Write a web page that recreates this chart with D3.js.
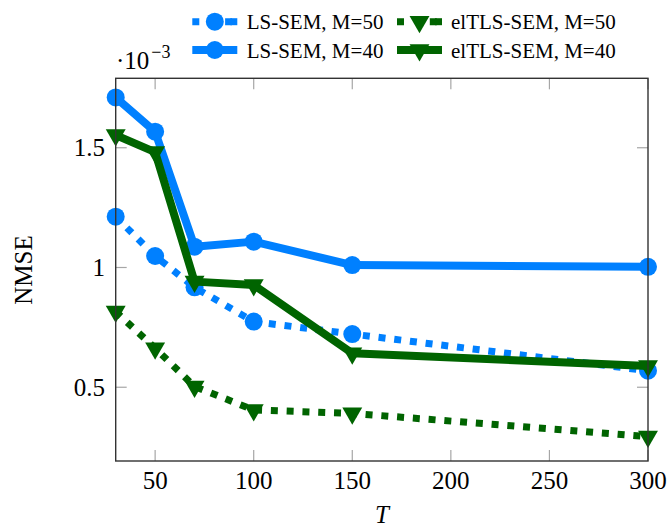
<!DOCTYPE html>
<html>
<head>
<meta charset="utf-8">
<script src="https://cdn.jsdelivr.net/npm/d3@7"></script>
<style>
  html, body { margin: 0; padding: 0; background: #fff; }
  svg { display: block; }
</style>
</head>
<body>
<svg id="chart" width="668" height="529"></svg>
<script>
// ---- data ----
const T = [30, 50, 70, 100, 150, 300];
const lsM50 = [1.212, 1.048, 0.917, 0.774, 0.722, 0.569];
const elM50 = [0.816, 0.663, 0.503, 0.405, 0.391, 0.294];
const lsM40 = [1.71, 1.567, 1.087, 1.108, 1.010, 1.003];
const elM40 = [1.553, 1.482, 0.941, 0.927, 0.642, 0.589];
const seriesNames = ["LS-SEM, M=50", "elTLS-SEM, M=50", "LS-SEM, M=40", "elTLS-SEM, M=40"];
const xTicks = [50, 100, 150, 200, 250, 300];
const yTicks = [0.5, 1, 1.5];
const yTickLabels = ["0.5", "1", "1.5"];

const BLUE = "rgb(0,128,255)";
const GREEN = "rgb(0,100,0)";
const FONT = '"Liberation Serif"';

const series = [
  { name: seriesNames[0], values: lsM50, color: BLUE, dotted: true, marker: "circle" },
  { name: seriesNames[1], values: elM50, color: GREEN, dotted: true, marker: "tri" },
  { name: seriesNames[2], values: lsM40, color: BLUE, dotted: false, marker: "circle" },
  { name: seriesNames[3], values: elM40, color: GREEN, dotted: false, marker: "tri" }
];

const svg = d3.select("#chart");
const x = d3.scaleLinear().domain([30, 300]).range([115.7, 648]);
const y = d3.scaleLinear().domain([0.192, 1.79]).range([461, 78.3]);

const [x0, x1] = x.range();
const [y0, y1] = y.range();

function txt(sel) { return sel.append("text").style("font-family", FONT).attr("fill", "#000"); }

// ticks (inside, all four sides)
const tickLen = 11;
const tickG = svg.append("g").attr("stroke", "#a6a6a6").attr("stroke-width", 1.2);
xTicks.forEach(t => {
  tickG.append("line").attr("x1", x(t)).attr("x2", x(t)).attr("y1", y0).attr("y2", y0 - tickLen);
  tickG.append("line").attr("x1", x(t)).attr("x2", x(t)).attr("y1", y1).attr("y2", y1 + tickLen);
});
yTicks.forEach(t => {
  tickG.append("line").attr("x1", x0).attr("x2", x0 + tickLen).attr("y1", y(t)).attr("y2", y(t));
  tickG.append("line").attr("x1", x1).attr("x2", x1 - tickLen).attr("y1", y(t)).attr("y2", y(t));
});

// tick labels
xTicks.forEach(t => {
  txt(svg).attr("x", x(t)).attr("y", 489).attr("text-anchor", "middle")
    .attr("font-size", 25).text(t);
});
yTicks.forEach((t, i) => {
  txt(svg).attr("x", 105).attr("y", y(t) + 8.5).attr("text-anchor", "end")
    .attr("font-size", 25).text(yTickLabels[i]);
});

// scale factor label
const sf = txt(svg).attr("x", 116).attr("y", 69).attr("font-size", 25);
sf.append("tspan").text("·10");
sf.append("tspan").attr("dy", -11).attr("dx", 2).attr("font-size", 18).text("−3");

// axis labels
txt(svg).attr("transform", "translate(32,270) rotate(-90)").attr("text-anchor", "middle")
  .attr("font-size", 25).text("NMSE");
txt(svg).attr("x", 382).attr("y", 523).attr("text-anchor", "middle")
  .attr("font-size", 25).attr("font-style", "italic").text("T");

// series
const line = d3.line().x((d, i) => x(T[i])).y(d => y(d));
const TRI_R = 11.5;
function triPath(cx, cy, r) {
  const w = r * Math.sqrt(3) / 2;
  return `M${cx - w},${cy - r / 2}L${cx + w},${cy - r / 2}L${cx},${cy + r}Z`;
}
function drawMarker(g, m, cx, cy, color) {
  if (m === "circle") {
    g.append("circle").attr("cx", cx).attr("cy", cy).attr("r", 9).attr("fill", color);
  } else {
    g.append("path").attr("d", triPath(cx, cy, TRI_R)).attr("fill", color);
  }
}

series.forEach(s => {
  const g = svg.append("g");
  g.append("path").datum(s.values).attr("d", line)
    .attr("fill", "none").attr("stroke", s.color)
    .attr("stroke-width", s.dotted ? 7 : 8)
    .attr("stroke-linejoin", "round")
    .attr("stroke-dasharray", s.dotted ? "7,8.8" : null);
  s.values.forEach((v, i) => drawMarker(g, s.marker, x(T[i]), y(v), s.color));
});

// frame
svg.append("rect").attr("x", x0).attr("y", y1).attr("width", x1 - x0).attr("height", y0 - y1)
  .attr("fill", "none").attr("stroke", "#333").attr("stroke-width", 1.4);

// legend (2 columns)
const legendPos = [
  { lx: 192.3, ty: 21.7, tx: 246.7 },
  { lx: 397, ty: 21.7, tx: 451 },
  { lx: 192.3, ty: 50, tx: 246.7 },
  { lx: 397, ty: 50, tx: 451 }
];
series.forEach((s, i) => {
  const p = legendPos[i];
  const g = svg.append("g");
  g.append("line").attr("x1", p.lx).attr("x2", p.lx + 45).attr("y1", p.ty).attr("y2", p.ty)
    .attr("stroke", s.color).attr("stroke-width", s.dotted ? 7 : 8)
    .attr("stroke-dasharray", s.dotted ? "7,25.8" : null);
  if (s.dotted) {
    g.append("line").attr("x1", p.lx + 38).attr("x2", p.lx + 45).attr("y1", p.ty).attr("y2", p.ty)
      .attr("stroke", s.color).attr("stroke-width", 7);
  }
  drawMarker(g, s.marker, p.lx + 22.5, p.ty, s.color);
  txt(g).attr("x", p.tx).attr("y", p.ty + 7.5).attr("font-size", 21).text(s.name);
});
</script>
</body>
</html>
